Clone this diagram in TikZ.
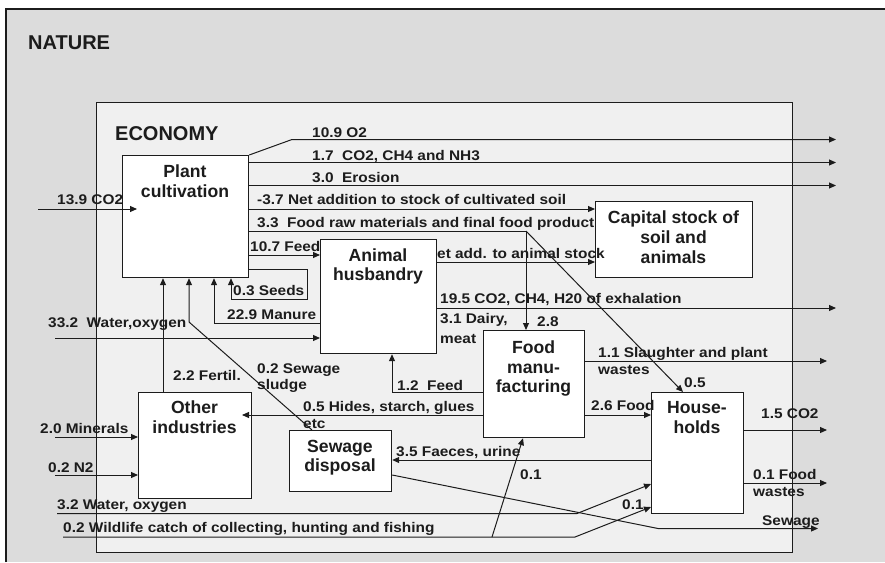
\documentclass[tikz,border=0pt]{standalone}
\usepackage{fontspec}
\setmainfont{Liberation Sans}
\newfontfamily\lblfam[FakeStretch=1.1]{Liberation Sans}
\usetikzlibrary{arrows.meta}
\definecolor{naturebg}{RGB}{220,220,220}
\definecolor{econbg}{RGB}{240,240,240}
\definecolor{ink}{RGB}{28,28,28}
\begin{document}
\begin{tikzpicture}[x=1pt,y=-1pt,
  box/.style={draw=ink,fill=white,line width=1.2pt,inner sep=0pt,anchor=north west,rectangle},
  boxtext/.style={font=\fontsize{17.6}{20}\selectfont\bfseries,inner sep=0pt,anchor=base,text=ink},
  lbl/.style={font=\lblfam\fontsize{14}{16}\selectfont\bfseries,inner sep=0pt,anchor=base west,text=ink},
  title/.style={font=\fontsize{20}{24}\selectfont\bfseries,inner sep=0pt,anchor=base west,text=ink},
  ln/.style={draw=ink,line width=1pt},
  arr/.style={ln,-{Triangle[length=7pt,width=6pt]}}]
\useasboundingbox (0,0) rectangle (885,562);
\fill[white] (0,0) rectangle (885,562);
\fill[naturebg] (6,9) rectangle (885,562);
\draw[ink,line width=1.2pt] (6,562) -- (6,9) -- (885,9);
\draw[ink,fill=econbg,line width=1pt] (96,102) rectangle (792,552);

% boxes
\node[box,minimum width=126pt,minimum height=122pt] (pc) at (122,155) {};
\node[box,minimum width=116pt,minimum height=114pt] (ah) at (320,239) {};
\node[box,minimum width=157pt,minimum height=76pt] (cap) at (595,201) {};
\node[box,minimum width=101pt,minimum height=107pt] (fm) at (483,330) {};
\node[box,minimum width=92pt,minimum height=121pt] (hh) at (651,392) {};
\node[box,minimum width=113pt,minimum height=106pt] (oi) at (138,392) {};
\node[box,minimum width=102pt,minimum height=61pt] (sd) at (289,430) {};

% free ends and bends
\coordinate (o1b) at (292,139.5);
\coordinate (o1) at (836,139.5);
\coordinate (o2) at (836,162.5);
\coordinate (o3) at (836,185.5);
\coordinate (co2in) at (38,209);
\coordinate (j1) at (526,231);
\coordinate (hhtop) at (683,392);
\coordinate (w33) at (55,338);
\coordinate (o19) at (836,308);
\coordinate (min) at (55,437);
\coordinate (n2) at (55,475);
\coordinate (o11) at (827,361);
\coordinate (o15) at (827,430);
\coordinate (o01) at (827,483);
\coordinate (sewk) at (658,528.5);
\coordinate (osew) at (818,528.5);
\coordinate (w32) at (57,513.5);
\coordinate (w32k) at (577,513.5);
\coordinate (wl) at (63,537);
\coordinate (wlk) at (575,537);
\coordinate (wlf) at (492,537);
\coordinate (sk) at (189,322);
\coordinate (hidesend) at (242,415);
\coordinate (seedA) at (307,269);
\coordinate (seedB) at (307,299);
\coordinate (seedC) at (231,299);
\coordinate (manK) at (214,323);
\coordinate (feedK) at (392,392);

% connectors
\draw[arr] (pc.north east) -- (o1b) -- (o1);
\draw[arr] (pc.east |- o2) -- (o2);
\draw[arr] (pc.east |- o3) -- (o3);
\draw[arr] (pc.east |- 0,209) -- (cap.west |- 0,209);
\draw[arr] (co2in) -- ++(99,0);
\draw[ln] (pc.east |- j1) -- (j1);
\draw[arr] (j1) -- (fm.north -| j1);
\draw[arr] (j1) -- (hhtop);
\draw[arr] (pc.east |- 0,255) -- (ah.west |- 0,255);
\draw[arr] (ah.east |- 0,262) -- (cap.west |- 0,262);
\draw[arr] (pc.east |- seedA) -- (seedA) -- (seedB) -- (seedC) -- (pc.south -| seedC);
\draw[arr] (ah.west |- manK) -- (manK) -- (pc.south -| manK);
\draw[arr] (oi.north -| 163,0) -- (pc.south -| 163,0);
\draw[arr] (sd.north -| 312,0) -- (sk) -- (pc.south -| sk);
\draw[arr] (w33) -- (ah.west |- w33);
\draw[arr] (ah.east |- o19) -- (o19);
\draw[arr] (fm.west |- feedK) -- (feedK) -- (ah.south -| feedK);
\draw[arr] (fm.west |- hidesend) -- (hidesend);
\draw[arr] (fm.east |- o11) -- (o11);
\draw[arr] (fm.east |- 0,415) -- (hh.west |- 0,415);
\draw[arr] (hh.east |- o15) -- (o15);
\draw[arr] (hh.east |- o01) -- (o01);
\draw[arr] (hh.west |- 0,460) -- (sd.east |- 0,460);
\draw[arr] (sd.east |- 0,475) -- (sewk) -- (osew);
\draw[arr] (w32) -- (w32k) -- (hh.west |- 0,484);
\draw[arr] (wl) -- (wlk) -- (hh.west |- 0,507);
\draw[arr] (wlf) -- (fm.south -| 523,0);
\draw[arr] (min) -- (oi.west |- min);
\draw[arr] (n2) -- (oi.west |- n2);

% box texts
\node[boxtext] (t1) at (185,177) {Plant};
\node[boxtext] (t2) at (185,197) {cultivation};
\node[boxtext] (t3) at (378,261) {Animal};
\node[boxtext] (t4) at (378,280) {husbandry};
\node[boxtext] (t5) at (673.5,223) {Capital stock of};
\node[boxtext] (t6) at (673.5,243) {soil and};
\node[boxtext] (t7) at (673.5,263) {animals};
\node[boxtext] (t8) at (533.5,353) {Food};
\node[boxtext] (t9) at (533.5,373) {manu-};
\node[boxtext] (t10) at (533.5,392) {facturing};
\node[boxtext] (t11) at (697,413) {House-};
\node[boxtext] (t12) at (697,433) {holds};
\node[boxtext] (t13) at (194.5,413) {Other};
\node[boxtext] (t14) at (194.5,433) {industries};
\node[boxtext] (t15) at (340,452) {Sewage};
\node[boxtext] (t16) at (340,471) {disposal};

% titles
\node[title] (nat) at (28,49) {NATURE};
\node[title] (eco) at (115,140) {ECONOMY};

% labels
\node[lbl] (l1) at (312,137) {10.9 O2};
\node[lbl] (l2) at (312,160) {1.7\ \ CO2, CH4 and NH3};
\node[lbl] (l3) at (312,182) {3.0\ \ Erosion};
\node[lbl] (l4) at (257,204) {-3.7 Net addition to stock of cultivated soil};
\node[lbl] (l5) at (257,227) {3.3\ \ Food raw materials and final food product};
\node[lbl] (l6) at (250,251) {10.7 Feed};
\node[lbl] (l7) at (437,258) {et add. to animal stock};
\node[lbl] (l8) at (57,204) {13.9 CO2};
\node[lbl] (l9) at (233,295) {0.3 Seeds};
\node[lbl] (l10) at (227,319) {22.9 Manure};
\node[lbl] (l11) at (48,327) {33.2\ \ Water,oxygen};
\node[lbl] (l12) at (440,303) {19.5 CO2, CH4, H20 of exhalation};
\node[lbl] (l13) at (440,323) {3.1 Dairy,};
\node[lbl] (l14) at (440,343) {meat};
\node[lbl] (l15) at (537,326) {2.8};
\node[lbl] (l16) at (173,380) {2.2 Fertil.};
\node[lbl] (l17) at (257,373) {0.2 Sewage};
\node[lbl] (l18) at (257,389) {sludge};
\node[lbl] (l19) at (397,390) {1.2\ \ Feed};
\node[lbl] (l20) at (303,411) {0.5 Hides, starch, glues};
\node[lbl] (l21) at (303,428) {etc};
\node[lbl] (l22) at (598,357) {1.1 Slaughter and plant};
\node[lbl] (l23) at (598,374) {wastes};
\node[lbl] (l24) at (684,387) {0.5};
\node[lbl] (l25) at (591,410) {2.6 Food};
\node[lbl] (l26) at (761,418) {1.5 CO2};
\node[lbl] (l27) at (396,456) {3.5 Faeces, urine};
\node[lbl] (l28) at (520,479) {0.1};
\node[lbl] (l29) at (753,479) {0.1 Food};
\node[lbl] (l30) at (753,496) {wastes};
\node[lbl] (l31) at (622,509) {0.1};
\node[lbl] (l32) at (762,525) {Sewage};
\node[lbl] (l33) at (40,433) {2.0 Minerals};
\node[lbl] (l34) at (48,472) {0.2 N2};
\node[lbl] (l35) at (57,509) {3.2 Water, oxygen};
\node[lbl] (l36) at (63,532) {0.2 Wildlife catch of collecting, hunting and fishing};
\end{tikzpicture}
\end{document}
